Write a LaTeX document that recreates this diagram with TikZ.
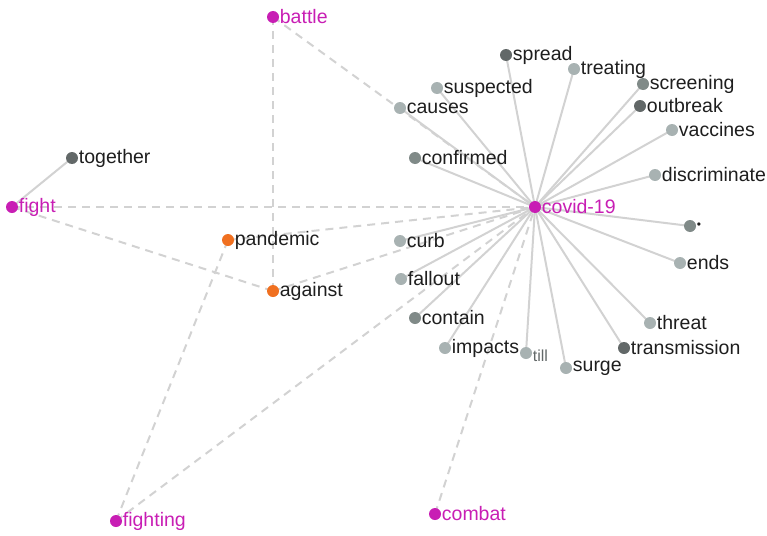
\documentclass[tikz,border=0pt]{standalone}
\usepackage{fontspec}
\setmainfont{Liberation Sans}
\usetikzlibrary{backgrounds}
\definecolor{mag}{RGB}{200,30,180}
\definecolor{org}{RGB}{240,112,32}
\definecolor{dg}{RGB}{98,104,104}
\definecolor{mg}{RGB}{128,138,136}
\definecolor{lg}{RGB}{168,178,178}
\definecolor{edge}{RGB}{210,210,210}
\definecolor{txt}{RGB}{30,30,30}
\begin{document}
\begin{tikzpicture}[x=1pt,y=-1pt,
  dot/.style={circle,inner sep=0pt,minimum size=12pt,fill=#1},
  lab/.style={label={[label distance=0pt,text=txt,font=\fontsize{19.5}{19.5}\selectfont,inner sep=0.5pt]east:#1}},
  mlab/.style={label={[label distance=0pt,text=mag,font=\fontsize{19.5}{19.5}\selectfont,inner sep=0.5pt]east:#1}},
  solidedge/.style={draw=edge,line width=2pt},
  dashedge/.style={draw=edge,line width=2pt,dash pattern=on 8pt off 6pt}]
\useasboundingbox (0,0) rectangle (767,535);
% nodes
\node[dot=mag,mlab=battle] (battle) at (273,17) {};
\node[dot=dg,lab=spread] (spread) at (506,55) {};
\node[dot=lg,lab=treating] (treating) at (574,69) {};
\node[dot=lg,lab=suspected] (suspected) at (437,88) {};
\node[dot=mg,lab=screening] (screening) at (643,84) {};
\node[dot=lg,lab=causes] (causes) at (400,108) {};
\node[dot=dg,lab=outbreak] (outbreak) at (640,106) {};
\node[dot=dg,lab=together] (together) at (72,158) {};
\node[dot=lg,lab=vaccines] (vaccines) at (672,130) {};
\node[dot=mg,lab=confirmed] (confirmed) at (415,158) {};
\node[dot=lg,lab=discriminate] (discriminate) at (655,175) {};
\node[dot=mag,mlab=covid-19] (covid) at (535,207) {};
\node[dot=mag,mlab=fight] (fight) at (12,207) {};
\node[dot=mg,lab={\fontsize{12}{12}\selectfont •}] (bullet) at (690,226) {};
\node[dot=org,lab=pandemic] (pandemic) at (228,240) {};
\node[dot=lg,lab=curb] (curb) at (400,241) {};
\node[dot=lg,lab=ends] (ends) at (680,263) {};
\node[dot=lg,lab=fallout] (fallout) at (401,279) {};
\node[dot=org,lab=against] (against) at (273,291) {};
\node[dot=mg,lab=contain] (contain) at (415,318) {};
\node[dot=lg,lab=threat] (threat) at (650,323) {};
\node[dot=lg,lab=impacts] (impacts) at (445,348) {};
\node[dot=lg,label={[label distance=0pt,text=dg,font=\fontsize{16}{16}\selectfont,inner sep=0.5pt,yshift=-3pt]east:till}] (till) at (526,353) {};
\node[dot=dg,lab=transmission] (transmission) at (624,348) {};
\node[dot=lg,lab=surge] (surge) at (566,368) {};
\node[dot=mag,mlab=fighting] (fighting) at (116,521) {};
\node[dot=mag,mlab=combat] (combat) at (435,514) {};
% edges
\begin{scope}[on background layer]
\foreach \a/\b in {battle/against,battle/covid,fight/covid,fight/against,
  pandemic/covid,against/covid,fighting/pandemic,fighting/covid,combat/covid}
  \draw[dashedge] (\a.center) -- (\b.center);
\draw[solidedge] (fight.center) -- (together.center);
\foreach \b in {spread,treating,suspected,causes,screening,outbreak,vaccines,
  confirmed,discriminate,bullet,ends,curb,fallout,contain,impacts,till,surge,
  threat,transmission}
  \draw[solidedge] (covid.center) -- (\b.center);
\end{scope}
\end{tikzpicture}
\end{document}
